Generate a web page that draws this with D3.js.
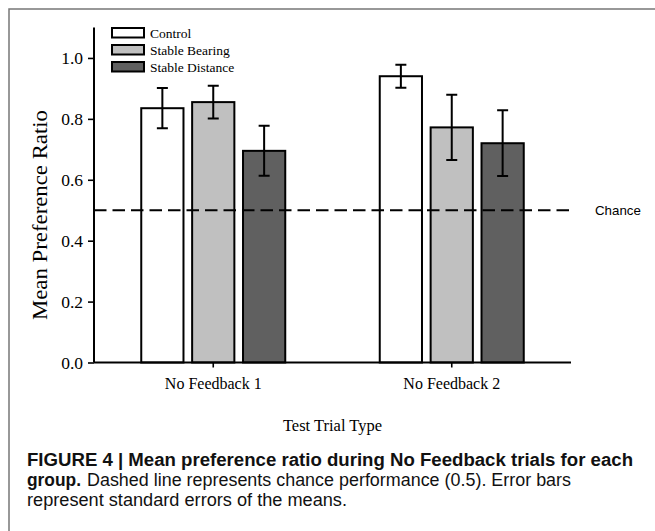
<!DOCTYPE html>
<html>
<head>
<meta charset="utf-8">
<script src="https://cdn.jsdelivr.net/npm/d3@7"></script>
<style>
	body { margin: 0; background: #fff; }
	svg { display: block; }
</style>
</head>
<body>
<svg class="chart"></svg>
<script>
	var trialTypes = ['No Feedback 1', 'No Feedback 2'],
		groups = ['Control', 'Stable Bearing', 'Stable Distance'],
		groupColours = ['#ffffff', '#c0c0c0', '#606060'],
		means = [
			[0.835, 0.855, 0.695],
			[0.940, 0.772, 0.720]
		],
		errors = [
			[0.066, 0.054, 0.082],
			[0.038, 0.107, 0.108]
		],
		yTicks = [0, 0.2, 0.4, 0.6, 0.8, 1.0],
		chance = 0.5;

	var width = 655,
		height = 531,
		plotLeft = 94,
		plotRight = 571,
		plotTop = 27.5,
		plotBottom = 362.5,
		i, j;

	var svg = d3.select('.chart')
		.attr('width', width)
		.attr('height', height);

	// Frame round the figure
	svg.append('path')
		.attr('d', 'M9,' + height + 'V9H' + width)
		.attr('fill', 'none')
		.attr('stroke', '#777')
		.attr('stroke-width', 1.5);

	var x = d3.scaleBand()
		.domain(trialTypes)
		.range([plotLeft, plotRight])
		.padding(0);

	var xInner = d3.scaleBand()
		.domain(groups)
		.range([-72, 72])
		.paddingInner(0.17);

	var y = d3.scaleLinear()
		.domain([0, 1.1])
		.range([plotBottom, plotTop]);

	// Bars
	var bars = [];
	for (i = 0; i < trialTypes.length; i++) {
		for (j = 0; j < groups.length; j++) {
			bars.push({
				type: trialTypes[i],
				group: groups[j],
				colour: groupColours[j],
				mean: means[i][j],
				se: errors[i][j]
			});
		}
	}

	var barX = function (d) {
		return x(d.type) + x.bandwidth() / 2 + xInner(d.group);
	};

	svg.append('g').attr('class', 'bars')
		.selectAll('rect')
		.data(bars).enter()
		.append('rect')
			.attr('x', barX)
			.attr('y', function (d) {return y(d.mean);})
			.attr('width', xInner.bandwidth())
			.attr('height', function (d) {return y(0) - y(d.mean);})
			.attr('fill', function (d) {return d.colour;})
			.attr('stroke', '#000')
			.attr('stroke-width', 2);

	// Dashed chance line
	svg.append('line')
		.attr('x1', plotLeft)
		.attr('x2', plotRight)
		.attr('y1', y(chance))
		.attr('y2', y(chance))
		.attr('stroke', '#000')
		.attr('stroke-width', 2)
		.attr('stroke-dasharray', '12.5,6');

	svg.append('text')
		.attr('x', 595)
		.attr('y', y(chance) + 5)
		.attr('font-family', 'Liberation Sans, Arial, sans-serif')
		.attr('font-size', 13.3)
		.text('Chance');

	// Error bars
	svg.append('g').attr('class', 'errors')
		.attr('stroke', '#000')
		.attr('stroke-width', 2)
		.attr('fill', 'none')
		.selectAll('path')
		.data(bars).enter()
		.append('path')
			.attr('d', function (d) {
				var cx = barX(d) + xInner.bandwidth() / 2,
					hi = y(d.mean + d.se),
					lo = y(d.mean - d.se),
					cap = 5.5;
				return 'M' + (cx - cap) + ',' + hi + 'H' + (cx + cap) +
					'M' + cx + ',' + hi + 'V' + lo +
					'M' + (cx - cap) + ',' + lo + 'H' + (cx + cap);
			});

	// Axes
	var serif = 'Liberation Serif, Times New Roman, serif';

	var yAxis = svg.append('g')
		.attr('transform', 'translate(' + plotLeft + ',0)')
		.call(d3.axisLeft(y).tickValues(yTicks).tickFormat(d3.format('.1f')).tickSize(6).tickPadding(5));

	var xAxis = svg.append('g')
		.attr('transform', 'translate(0,' + plotBottom + ')')
		.call(d3.axisBottom(x).tickSize(5).tickPadding(10));

	yAxis.select('.domain').attr('d', 'M0,' + plotTop + 'V' + plotBottom);
	xAxis.select('.domain').attr('d', 'M' + plotLeft + ',0H' + plotRight);

	[yAxis, xAxis].forEach(function (a) {
		a.select('.domain').attr('stroke-width', 2);
		a.selectAll('.tick line').attr('stroke-width', 1.6);
		a.selectAll('.tick text')
			.attr('font-family', serif)
			.attr('font-size', a === yAxis ? 17.5 : 16)
			.attr('fill', '#000');
	});

	// Axis titles
	svg.append('text')
		.attr('transform', 'translate(47,215) rotate(-90)')
		.attr('text-anchor', 'middle')
		.attr('font-family', serif)
		.attr('font-size', 20)
		.attr('textLength', 210)
		.attr('lengthAdjust', 'spacingAndGlyphs')
		.text('Mean Preference Ratio');

	svg.append('text')
		.attr('x', (plotLeft + plotRight) / 2)
		.attr('y', 431)
		.attr('text-anchor', 'middle')
		.attr('font-family', serif)
		.attr('font-size', 16.5)
		.text('Test Trial Type');

	// Legend
	var legend = svg.append('g').attr('class', 'legend')
		.selectAll('g')
		.data(groups).enter()
		.append('g')
			.attr('transform', function (d, k) {return 'translate(112,' + (28 + k * 17) + ')';});

	legend.append('rect')
		.attr('width', 32)
		.attr('height', 9.5)
		.attr('fill', function (d, k) {return groupColours[k];})
		.attr('stroke', '#000')
		.attr('stroke-width', 2);

	legend.append('text')
		.attr('x', 38)
		.attr('y', 9.5)
		.attr('font-family', serif)
		.attr('font-size', 13.5)
		.text(function (d) {return d;});

	// Caption
	var sans = 'Liberation Sans, Arial, sans-serif',
		caption = svg.append('text')
			.attr('font-family', sans)
			.attr('font-size', 17.5)
			.attr('fill', '#111');

	caption.append('tspan')
		.attr('x', 27).attr('y', 466)
		.attr('font-weight', 'bold')
		.attr('textLength', 606)
		.attr('lengthAdjust', 'spacingAndGlyphs')
		.text('FIGURE 4 | Mean preference ratio during No Feedback trials for each');

	caption.append('tspan')
		.attr('x', 27).attr('y', 486)
		.attr('font-weight', 'bold')
		.attr('textLength', 54)
		.attr('lengthAdjust', 'spacingAndGlyphs')
		.text('group.');

	caption.append('tspan')
		.attr('x', 87).attr('y', 486)
		.attr('textLength', 484)
		.attr('lengthAdjust', 'spacingAndGlyphs')
		.text('Dashed line represents chance performance (0.5). Error bars');

	caption.append('tspan')
		.attr('x', 27).attr('y', 506)
		.attr('textLength', 320)
		.attr('lengthAdjust', 'spacingAndGlyphs')
		.text('represent standard errors of the means.');
</script>
</body>
</html>
